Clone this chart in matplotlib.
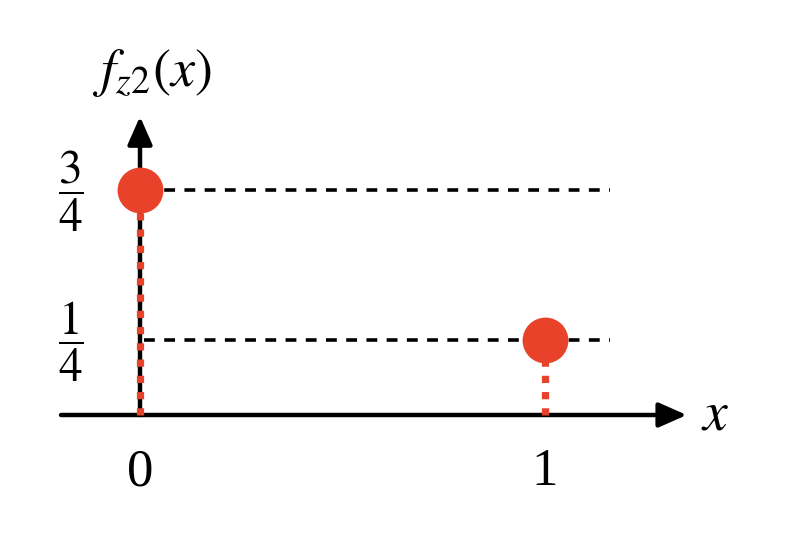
import matplotlib.pyplot as plt

plt.rcParams['mathtext.fontset'] = 'stix'
plt.rcParams['font.family'] = 'Liberation Serif'

# point masses of f_z2
xs = [0, 1]
probs = [0.75, 0.25]
y_tick_labels = [r'$\dfrac{3}{4}$', r'$\dfrac{1}{4}$']
x_tick_labels = ['0', '1']

red = '#E8432A'

fig = plt.figure(figsize=(8, 5.44), dpi=100)
ax = fig.add_axes([0, 0, 1, 1])
ax.set_xlim(-140 / 405, 660 / 405)
ax.set_ylim(-129 / 300, 415 / 300)
ax.axis('off')

# axes with arrow heads
head = '-|>,head_length=1.7,head_width=0.75'
ax.annotate('', xy=(1.35, 0), xytext=(-0.195, 0),
            arrowprops=dict(arrowstyle=head, color='black', lw=3.2,
                            shrinkA=0, shrinkB=0))
ax.annotate('', xy=(0, 0.995), xytext=(0, 0),
            arrowprops=dict(arrowstyle=head, color='black', lw=3.2,
                            shrinkA=0, shrinkB=0))

# dashed guides to each probability
for x, p in zip(xs, probs):
    ax.plot([0.01, 1.16], [p, p], color='black', lw=2.6,
            dashes=(3, 2.6), solid_capstyle='butt', zorder=2)
    ax.plot([x, x], [0, p], color=red, lw=5.2, ls=(0, (1.0, 1.25)), zorder=3)
ax.plot(xs, probs, 'o', color=red, ms=33, mec='none', zorder=4)

for p, lab in zip(probs, y_tick_labels):
    ax.text(-0.17, p - 0.005, lab, fontsize=34, ha='center', va='center')
for x, lab in zip(xs, x_tick_labels):
    ax.text(x, -0.19, lab, fontsize=38, ha='center', va='center')

ax.text(1.42, 0.0, r'$x$', fontsize=40, ha='center', va='center')
ax.text(0.03, 1.14, r'$f_{z2}(x)$', fontsize=39, ha='center', va='center')

fig.savefig('out.png', dpi=100)
